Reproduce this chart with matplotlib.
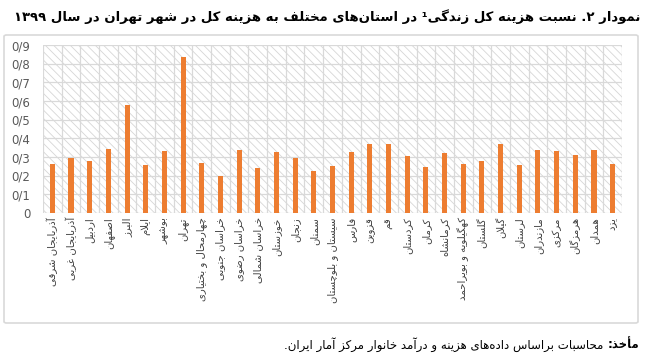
import re
import matplotlib
matplotlib.use("Agg")
import matplotlib.pyplot as plt
from matplotlib.patches import Rectangle, FancyBboxPatch

# --- data -------------------------------------------------------------
provinces = [
    "آذربایجان شرقی", "آذربایجان غربی", "اردبیل", "اصفهان", "البرز", "ایلام",
    "بوشهر", "تهران", "چهارمحال و بختیاری", "خراسان جنوبی", "خراسان رضوی",
    "خراسان شمالی", "خوزستان", "زنجان", "سمنان", "سیستان و بلوچستان", "فارس",
    "قزوین", "قم", "کردستان", "کرمان", "کرمانشاه", "کهگیلویه و بویراحمد",
    "گلستان", "گیلان", "لرستان", "مازندران", "مرکزی", "هرمزگان", "همدان", "یزد",
]
ratio = [
    0.265, 0.297, 0.277, 0.345, 0.581, 0.258, 0.331, 0.837, 0.267, 0.197,
    0.340, 0.242, 0.326, 0.292, 0.224, 0.254, 0.327, 0.367, 0.369, 0.306,
    0.249, 0.324, 0.261, 0.281, 0.370, 0.259, 0.336, 0.331, 0.310, 0.335,
    0.261,
]
yticks = [0.0, 0.1, 0.2, 0.3, 0.4, 0.5, 0.6, 0.7, 0.8, 0.9]
ytick_labels = ["0", "0/1", "0/2", "0/3", "0/4", "0/5", "0/6", "0/7", "0/8", "0/9"]

title = "نمودار ۲. نسبت هزینه کل زندگی¹ در استان\u200cهای مختلف به هزینه کل در شهر تهران در سال ۱۳۹۹"
source_bold = "مأخذ:"
source_rest = " محاسبات براساس داده\u200cهای هزینه و درآمد خانوار مرکز آمار ایران."

# --- minimal Persian shaping (no bidi/shaping in matplotlib 3.10) -------
DUAL = {'ب': 0xFE8F, 'پ': 0xFB56, 'ت': 0xFE95, 'ث': 0xFE99, 'ج': 0xFE9D,
        'چ': 0xFB7A, 'ح': 0xFEA1, 'خ': 0xFEA5, 'س': 0xFEB1, 'ش': 0xFEB5,
        'ص': 0xFEB9, 'ض': 0xFEBD, 'ط': 0xFEC1, 'ظ': 0xFEC5, 'ع': 0xFEC9,
        'غ': 0xFECD, 'ف': 0xFED1, 'ق': 0xFED5, 'ک': 0xFB8E, 'گ': 0xFB92,
        'ل': 0xFEDD, 'م': 0xFEE1, 'ن': 0xFEE5, 'ه': 0xFEE9, 'ی': 0xFBFC,
        'ئ': 0xFE89}
RIGHT = {'ا': 0xFE8D, 'آ': 0xFE81, 'أ': 0xFE83, 'د': 0xFEA9, 'ذ': 0xFEAB,
         'ر': 0xFEAD, 'ز': 0xFEAF, 'ژ': 0xFB8A, 'و': 0xFEED, 'ؤ': 0xFE85,
         '\uFEFB': 0xFEFB, '\uFEF5': 0xFEF5}


def fa(s):
    s = s.replace('لا', '\uFEFB').replace('لآ', '\uFEF5')
    out = []
    for i, ch in enumerate(s):
        prev = s[i - 1] if i > 0 else ''
        nxt = s[i + 1] if i + 1 < len(s) else ''
        jp = prev in DUAL
        if ch in DUAL:
            jn = nxt in DUAL or nxt in RIGHT
            k = 3 if (jp and jn) else 2 if jn else 1 if jp else 0
            out.append(chr(DUAL[ch] + k))
        elif ch in RIGHT:
            out.append(chr(RIGHT[ch] + (1 if jp else 0)))
        elif ch == '\u200c':
            continue
        else:
            out.append(ch)
    vis = ''.join(out)[::-1]
    return re.sub(r'[0-9۰-۹]+', lambda m: m.group()[::-1], vis)


# --- figure -----------------------------------------------------------
W, H = 649, 363
fig = plt.figure(figsize=(W / 100, H / 100), dpi=100)
plt.rcParams['hatch.linewidth'] = 0.6

# outer chart frame (drawn behind the axes)
fig.patches.append(FancyBboxPatch((4 / W, 1 - 323 / H), 634 / W, 288 / H,
                                  boxstyle="round,pad=0,rounding_size=0.004",
                                  transform=fig.transFigure, facecolor='none',
                                  edgecolor='#d9d9d9', linewidth=1.2,
                                  zorder=-5))

ax = fig.add_axes([43 / W, 1 - 213 / H, 579 / W, 168 / H])
ax.set_zorder(2)
ax.set_facecolor('none')
ax.add_patch(Rectangle((0, 0), 1, 1, transform=ax.transAxes, facecolor='white',
                       edgecolor='#d6d6d6', hatch='\\\\\\\\', linewidth=0,
                       zorder=0))

x = list(range(len(provinces)))
ax.bar(x, ratio, width=0.27, color='#ED7D31', zorder=3)

ax.set_xlim(-0.5, len(provinces) - 0.5)
ax.set_ylim(0, 0.9)
ax.set_yticks(yticks)
ax.set_yticklabels(ytick_labels, fontsize=8.5, color='#595959')
ax.set_xticks(x)
ax.set_xticklabels([fa(p) for p in provinces], rotation=90, fontsize=7.3,
                   color='#404040', va='top', ha='center')
ax.tick_params(length=0, pad=3)
ax.tick_params(axis='y', pad=9)

for v in yticks:
    ax.axhline(v, color='#d9d9d9', linewidth=0.9, zorder=1)
for i in range(len(provinces) + 1):
    ax.axvline(i - 0.5, color='#d9d9d9', linewidth=0.9, zorder=1)
for sp in ax.spines.values():
    sp.set_visible(False)

# title and source
fig.text(640 / W, 1 - 17 / H, fa(title), ha='right', va='center',
         fontsize=9.5, fontweight='bold', color='black')

renderer = fig.canvas.get_renderer()
t_bold = fig.text(639 / W, 1 - 345 / H, fa(source_bold), ha='right',
                  va='center', fontsize=8.5, fontweight='bold')
bb = t_bold.get_window_extent(renderer)
fig.text(bb.x0 / W, 1 - 345 / H, fa(source_rest), ha='right', va='center',
         fontsize=8.5)

fig.savefig("out.png", dpi=100)
